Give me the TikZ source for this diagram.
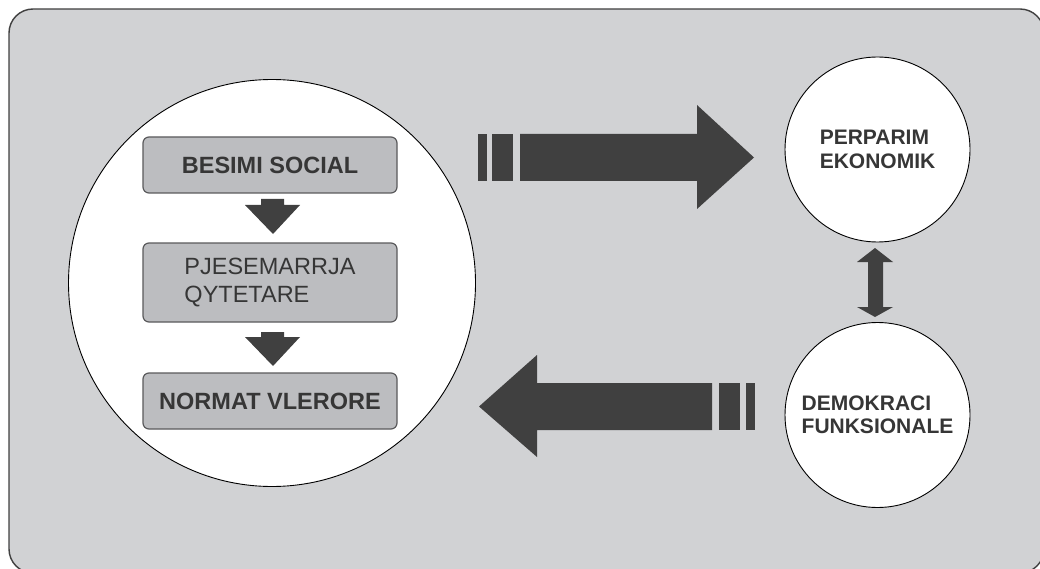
\documentclass[tikz,border=0pt]{standalone}
\usepackage{fontspec}
\setmainfont{Liberation Sans}
\definecolor{bg}{HTML}{D1D2D4}
\definecolor{boxfill}{HTML}{BCBDC0}
\definecolor{boxline}{HTML}{5A5A5C}
\definecolor{arrowc}{HTML}{404040}
\definecolor{txt}{HTML}{363636}
\begin{document}
\begin{tikzpicture}[x=1pt,y=-1pt,
  stepbox/.style={draw=boxline,fill=boxfill,line width=1.2pt,rounded corners=6pt,
    minimum width=254pt,inner sep=0pt,text=txt,font=\fontsize{23.5}{27.5}\selectfont},
  bigcirc/.style={circle,draw=black,fill=white,line width=0.9pt,inner sep=0pt},
  smallcirc/.style={circle,draw=black,fill=white,line width=0.9pt,inner sep=0pt,minimum size=185pt,
    text=txt,align=left,font=\bfseries\fontsize{21}{23.5}\selectfont},
  blockarrow/.style={fill=arrowc}]
\useasboundingbox (0,0) rectangle (1040,569);
% frame
\draw[fill=bg,draw=arrowc,line width=1.4pt,rounded corners=24pt] (9,9) rectangle (1044,573);
% big circle
\node[bigcirc,minimum size=407pt] (big) at (272,283) {};
% boxes
\node[stepbox,minimum height=56pt] (b1) at (270,165) {\bfseries BESIMI SOCIAL};
\node[stepbox,minimum height=79pt,align=left] (b2) at (270,282.5) {PJESEMARRJA\\QYTETARE};
\node[stepbox,minimum height=56pt] (b3) at (270,401) {\bfseries NORMAT VLERORE};
% down arrows
\fill[blockarrow] (261,199) -- (284,199) -- (284,205) -- (300,205) -- (273,234) -- (245,205) -- (261,205) -- cycle;
\fill[blockarrow] (261,332) -- (284,332) -- (284,337) -- (300,337) -- (273,366) -- (245,337) -- (261,337) -- cycle;
% right circles
\node[smallcirc] (pe) at (877.5,149.5) {PERPARIM\\EKONOMIK};
\node[smallcirc] (df) at (877.5,415) {DEMOKRACI\\FUNKSIONALE};
% right arrow
\fill[blockarrow] (478,134) rectangle (487,181);
\fill[blockarrow] (492,134) rectangle (513,181);
\fill[blockarrow] (520,134) -- (697,134) -- (697,105) -- (754,157.5) -- (697,209) -- (697,181) -- (520,181) -- cycle;
% left arrow
\fill[blockarrow] (746,383) rectangle (755,430);
\fill[blockarrow] (719,383) rectangle (740,430);
\fill[blockarrow] (712,383) -- (537,383) -- (537,355) -- (479,406.5) -- (537,457) -- (537,430) -- (712,430) -- cycle;
% double arrow
\fill[blockarrow] (875,248) -- (893,262) -- (883,262) -- (883,307) -- (893,307) -- (875,317) -- (857,307) -- (868,307) -- (868,262) -- (857,262) -- cycle;
\end{tikzpicture}
\end{document}
